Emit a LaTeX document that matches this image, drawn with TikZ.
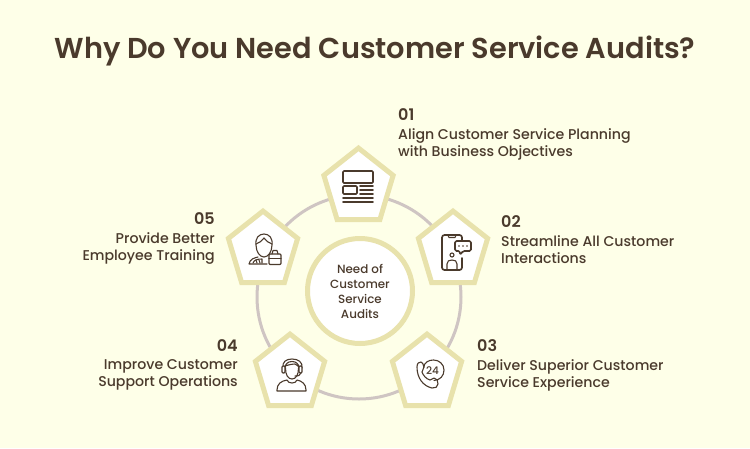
\documentclass[tikz,border=0pt]{standalone}
\usepackage{fontspec}
\setmainfont{Poppins Medium}[BoldFont={Poppins SemiBold}]
\usetikzlibrary{shapes.geometric}
\definecolor{paper}{HTML}{FEFFE8}
\definecolor{ink}{HTML}{4A3A2C}
\definecolor{straw}{HTML}{E8E2AC}
\definecolor{ringgrey}{HTML}{CFC5C3}
\tikzset{
	pentbox/.style={regular polygon, regular polygon sides=5, minimum size=72.8pt, inner sep=0pt, draw=straw, line width=5pt, fill=white, yscale=1.085, transform shape},
	numlabel/.style={text=ink, font=\bfseries\fontsize{16}{18}\selectfont, inner sep=0pt},
	textlabel/.style={text=ink, font=\fontsize{14.15}{17}\selectfont, inner sep=0pt},
	iconline/.style={draw=ink, line width=1.7pt, line cap=round, line join=round},
	iconthin/.style={draw=ink, line width=1.1pt, line cap=round, line join=round}
}
\begin{document}
\begin{tikzpicture}[x=1pt, y=-1pt]
	\useasboundingbox [fill=paper] (0,0) rectangle (750,448);
	\node (title) at (375,50.5) [text=ink, inner sep=0pt, font=\bfseries\fontsize{28.8}{30}\selectfont] {Why Do You Need Customer Service Audits?};
	% ring behind the pentagons
	\coordinate (ringcentre) at (359,297);
	\draw [ringgrey, line width=3pt] (ringcentre) circle (102);
	\node (hub) at (360,291) [circle, minimum size=105pt, inner sep=0pt, draw=straw, line width=5pt, fill=white, text=ink, align=center, font=\fontsize{11.9}{15}\selectfont] {Need of\\Customer\\Service\\Audits};
	\node (pent1) at (358.5,187.6) [pentbox] {};
	\node (pent2) at (453,250.6) [pentbox] {};
	\node (pent3) at (427,373.6) [pentbox] {};
	\node (pent4) at (290,373.6) [pentbox] {};
	\node (pent5) at (263,250.6) [pentbox] {};
	% icon 1
	\draw [iconline, rounded corners=1pt] (343,171) rectangle (373,183);
	\draw [iconline, rounded corners=1pt] (343,186) rectangle (357,194);
	\foreach \y in {186,190,194} {
		\draw [iconline] (360,\y) -- (373,\y);
	}
	\foreach \y in {198,202} {
		\draw [iconline] (343,\y) -- (373,\y);
	}
	% icon 2
	\draw [iconline, rounded corners=2.5pt] (462,251) -- (462,235) -- (442,235) -- (442,270) -- (462,270) -- (462,258);
	\draw [iconthin] (448,235.5) -- (449,237.5) -- (455,237.5) -- (456,235.5);
	\draw [iconline, fill=white, rounded corners=1.5pt] (455,241) -- (471,241) -- (471,251) -- (463,251) -- (460,255) -- (460,251) -- (455,251) -- cycle;
	\foreach \x in {459,463,467} {
		\fill [ink] (\x,246) circle (.9);
	}
	\draw [iconthin] (452,255) circle (2);
	\draw [iconthin] (447,269) -- (447,264) .. controls (447,261) and (449,260) .. (452,260) .. controls (455,260) and (457,261) .. (457,264) -- (457,269);
	% icon 3
	\draw [iconthin] (423.5,368) .. controls (424,362) and (429,360) .. (433.5,360) .. controls (439,360) and (444,364) .. (444,370) .. controls (444,376) and (440,380) .. (434,380.5);
	\node (clock) at (432.5,371) [text=ink, inner sep=0pt, font=\fontsize{10.5}{12}\selectfont] {24};
	\draw [iconthin] (417,367) .. controls (417,363) and (419,362) .. (421,362) .. controls (422.5,362) and (423,364) .. (424,367) .. controls (424.5,369) and (421.5,370) .. (422,372) .. controls (423,375) and (426,379) .. (430,380) .. controls (432,380) and (432,378) .. (434,378) .. controls (437,378) and (438,381) .. (438,384) .. controls (438,387) and (435,388.5) .. (432,388) .. controls (423,386) and (417,378) .. (417,367) -- cycle;
	% icon 4
	\draw [iconthin] (283,368) .. controls (282,362) and (286,359) .. (292,359) .. controls (298,359) and (303,362) .. (302,368);
	\draw [iconthin] (285,368) .. controls (285,364) and (288,361.5) .. (292,361.5) .. controls (296,361.5) and (299,364) .. (299,368);
	\draw [iconthin] (285,366) .. controls (288,365) and (292,364) .. (295,364) .. controls (297,365) and (298,366) .. (299,367);
	\draw [iconthin] (285.5,368) .. controls (285.5,375) and (288,379) .. (292,379) .. controls (296,379) and (298.5,375) .. (298.5,368);
	\draw [iconthin, fill=white, rounded corners=1pt] (282,366) rectangle (285,373);
	\draw [iconthin, fill=white, rounded corners=1pt] (299,366) rectangle (302,373);
	\draw [iconthin] (301,373) .. controls (300,376) and (298,376) .. (295,376);
	\draw [iconthin] (287,380) .. controls (281,381) and (277,384) .. (277,390) -- (277,391) -- (306,391) -- (306,390) .. controls (306,384) and (302,381) .. (297,380) .. controls (296,384) and (288,384) .. (287,380);
	% icon 5
	\draw [iconthin] (256,245) .. controls (255,238) and (259,234) .. (264,234) .. controls (269,234) and (273,238) .. (272,245) .. controls (272,252) and (268,257) .. (264,257) .. controls (260,257) and (256,252) .. (256,245) -- cycle;
	\draw [iconthin] (256,244) .. controls (259,243) and (262,241) .. (264,238) .. controls (266,241) and (269,243) .. (272,244);
	\draw [iconthin] (258,257) .. controls (254,258) and (250,259) .. (249,264) -- (267,264);
	\draw [iconthin] (253,263) .. controls (254,260) and (257,259) .. (262,259) -- (262,263);
	\foreach \x in {256,259} {
		\draw [iconthin] (\x,260) -- (\x+1,263);
	}
	\draw [iconthin, rounded corners=1pt] (269,254) rectangle (281,264.5);
	\draw [iconthin] (269,258.5) -- (281,258.5);
	\draw [iconthin] (272,254) -- (273,250.5) -- (277,250.5) -- (278,254);
	% labels
	\node (num1) at (398,115) [numlabel, anchor=west] {01};
	\node (text1) at (398,144) [textlabel, anchor=west, align=left] {Align Customer Service Planning\\with Business Objectives};
	\node (num2) at (501,222) [numlabel, anchor=west] {02};
	\node (text2) at (501,250) [textlabel, anchor=west, align=left] {Streamline All Customer\\Interactions};
	\node (num3) at (477,346) [numlabel, anchor=west] {03};
	\node (text3) at (477,375) [textlabel, anchor=west, align=left] {Deliver Superior Customer\\Service Experience};
	\node (num4) at (238,346) [numlabel, anchor=east] {04};
	\node (text4) at (238,375) [textlabel, anchor=east, align=right] {Improve Customer\\Support Operations};
	\node (num5) at (215,219) [numlabel, anchor=east] {05};
	\node (text5) at (215,248) [textlabel, anchor=east, align=right] {Provide Better\\Employee Training};
\end{tikzpicture}
\end{document}
